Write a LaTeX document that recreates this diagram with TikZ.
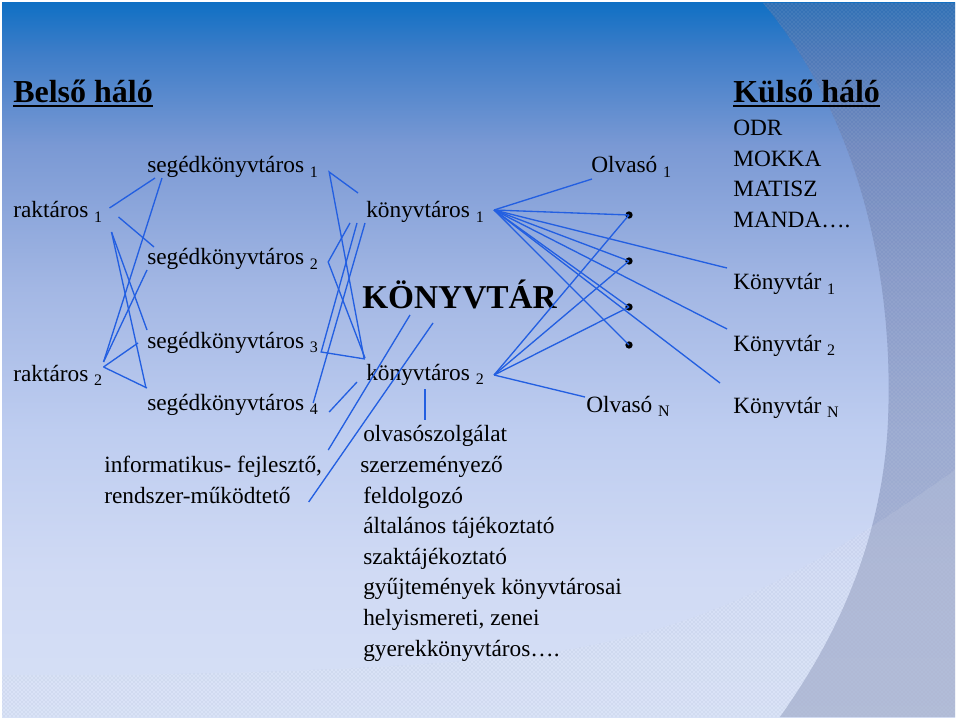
\documentclass[tikz,border=0pt]{standalone}
\usepackage{fontspec}
\setmainfont{Liberation Serif}
\usetikzlibrary{patterns}
\definecolor{vonalkek}{RGB}{35,95,225}
\definecolor{hfelso}{RGB}{16,112,196}
\definecolor{hk1}{RGB}{62,125,200}
\definecolor{hk2}{RGB}{122,153,212}
\definecolor{hk3}{RGB}{163,183,228}
\definecolor{hk4}{RGB}{190,205,240}
\definecolor{hk5}{RGB}{208,218,244}
\definecolor{halso}{RGB}{214,224,246}
\definecolor{minta}{RGB}{100,115,160}
\pgfdeclareverticalshading{hatter}{100bp}{color(0bp)=(halso); color(25bp)=(halso); color(35bp)=(hk5); color(45bp)=(hk4); color(55bp)=(hk3); color(65bp)=(hk2); color(71.5bp)=(hk1); color(75bp)=(hfelso); color(100bp)=(hfelso)}
\newcommand{\ix}[1]{\raisebox{-0.4ex}{\fontsize{12}{12}\selectfont #1}}
\newsavebox\cimdoboz
\newcommand{\alahuz}[1]{\sbox\cimdoboz{#1}\usebox\cimdoboz\llap{\rule[-3pt]{\wd\cimdoboz}{1.3pt}}}
\tikzset{
  szoveg/.style={anchor=base west, inner sep=0pt, font=\fontsize{17.5}{21}\selectfont},
  cim/.style={anchor=base west, inner sep=0pt, font=\fontsize{24}{28}\selectfont\bfseries},
  kapcs/.style={draw=vonalkek, line width=1pt},
  pont/.style={circle, fill=black, inner sep=0pt, minimum size=5.5pt},
}
\begin{document}
\begin{tikzpicture}[x=0.75pt,y=-0.75pt]
\useasboundingbox (0,0) rectangle (960,720);
%% hatter
\fill[white] (0,0) rectangle (960,720);
\shade[shading=hatter] (2,3) rectangle (955,717);
\fill[minta, fill opacity=0.4] (763,3) .. controls (845,100) and (895,250) .. (888,420) .. controls (882,560) and (820,660) .. (780,717) -- (955,717) -- (955,3) -- cycle;
\fill[pattern=crosshatch dots, pattern color=white, fill opacity=0.25] (763,3) .. controls (845,100) and (895,250) .. (888,420) .. controls (882,560) and (820,660) .. (780,717) -- (955,717) -- (955,3) -- cycle;
\fill[white, fill opacity=0.12] (2,675) .. controls (200,676) and (400,670) .. (547,653) .. controls (700,630) and (800,580) .. (955,470) -- (955,717) -- (2,717) -- cycle;
\fill[pattern=crosshatch dots, pattern color=minta, fill opacity=0.3] (2,675) .. controls (200,676) and (400,670) .. (547,653) .. controls (700,630) and (800,580) .. (955,470) -- (955,717) -- (2,717) -- cycle;
%% szovegek
\node[cim] (belso) at (13,103) {\alahuz{Belső háló}};
\node[cim] (kulso) at (733,103) {\alahuz{Külső háló}};
\node[szoveg] (odr) at (733,136) {ODR};
\node[szoveg] (mokka) at (733,167) {MOKKA};
\node[szoveg] (matisz) at (733,197) {MATISZ};
\node[szoveg] (manda) at (733,228) {MANDA\ldots.};
\node[szoveg] (kv1) at (733,290) {Könyvtár \ix{1}};
\node[szoveg] (kv2) at (733,351) {Könyvtár \ix{2}};
\node[szoveg] (kvN) at (733,413) {Könyvtár \ix{N}};
\node[szoveg] (rakt1) at (13,218) {raktáros \ix{1}};
\node[szoveg] (rakt2) at (13,381) {raktáros \ix{2}};
\node[szoveg] (seg1) at (147,173) {segédkönyvtáros \ix{1}};
\node[szoveg] (seg2) at (147,265) {segédkönyvtáros \ix{2}};
\node[szoveg] (seg3) at (147,348) {segédkönyvtáros \ix{3}};
\node[szoveg] (seg4) at (147,410) {segédkönyvtáros \ix{4}};
\node[szoveg] (kt1) at (366,218) {könyvtáros \ix{1}};
\node[szoveg] (kt2) at (366,380) {könyvtáros \ix{2}};
\node[anchor=base west, inner sep=0pt, font=\fontsize{25}{30}\selectfont\bfseries] (konyvtar) at (362,308) {KÖNYVTÁR};
\node[szoveg] (olv1) at (591,173) {Olvasó \ix{1}};
\node[szoveg] (olvN) at (586,412) {Olvasó \ix{N}};
\node[pont] (pont1) at (629,215) {};
\node[pont] (pont2) at (629,261) {};
\node[pont] (pont3) at (629,307) {};
\node[pont] (pont4) at (629,345) {};
\node[szoveg] (info) at (104,472) {informatikus- fejlesztő,};
\node[szoveg] (rendszer) at (104,503) {rendszer-működtető};
\node[szoveg] (olvsz) at (363,441) {olvasószolgálat};
\node[szoveg] (szerz) at (360,472) {szerzeményező};
\node[szoveg] (feld) at (363,503) {feldolgozó};
\node[szoveg] (alt) at (363,533) {általános tájékoztató};
\node[szoveg] (szakt) at (363,564) {szaktájékoztató};
\node[szoveg] (gyujt) at (363,594) {gyűjtemények könyvtárosai};
\node[szoveg] (helyi) at (363,625) {helyismereti, zenei};
\node[szoveg] (gyerek) at (363,656) {gyerekkönyvtáros\ldots.};
%% raktarosok
\draw[kapcs] ([shift={(7,-10)}]rakt1.base east) -- ([shift={(8,5)}]seg1.base west);
\draw[kapcs] ([shift={(16,-1)}]rakt1.base east) -- ([shift={(7,-18)}]seg2.base west);
\draw[kapcs] ([shift={(9,14)}]rakt1.base east) -- ([shift={(0,-18)}]seg3.base west);
\draw[kapcs] ([shift={(9,14)}]rakt1.base east) -- ([shift={(-1,-22)}]seg4.base west);
\draw[kapcs] ([shift={(1,-19)}]rakt2.base east) -- ([shift={(15,5)}]seg1.base west);
\draw[kapcs] ([shift={(1,-19)}]rakt2.base east) -- ([shift={(0,5)}]seg2.base west);
\draw[kapcs] ([shift={(1,-14)}]rakt2.base east) -- ([shift={(-9,-5)}]seg3.base west);
\draw[kapcs] ([shift={(1,-14)}]rakt2.base east) -- ([shift={(0,-22)}]seg4.base west);
%% segedkonyvtarosok
\draw[kapcs] ([shift={(-8,-25)}]kt1.base west) -- ([shift={(11,-1)}]seg1.base east) -- ([shift={(-2,-22)}]kt2.base west);
\draw[kapcs] ([shift={(-16,5)}]kt1.base west) -- ([shift={(10,-3)}]seg2.base east) -- ([shift={(-1,-22)}]kt2.base west);
\draw[kapcs] ([shift={(-9,5)}]kt1.base west) -- ([shift={(3,4)}]seg3.base east) -- ([shift={(-1,-21)}]kt2.base west);
\draw[kapcs] ([shift={(-5,-7)}]seg4.base east) -- ([shift={(-1,5)}]kt1.base west);
\draw[kapcs] ([shift={(11,2)}]seg4.base east) -- ([shift={(-9,2)}]kt2.base west);
%% konyvtarosok
\draw[kapcs] ([shift={(10,-8)}]kt1.base east) -- ([shift={(1,6)}]olv1.base west);
\draw[kapcs] ([shift={(10,-8)}]kt1.base east) -- (pont1.center);
\draw[kapcs] ([shift={(10,-8)}]kt1.base east) -- ([shift={(-6,-22)}]kv1.base west);
\draw[kapcs] ([shift={(10,-8)}]kt1.base east) -- (pont2.center);
\draw[kapcs] ([shift={(10,-8)}]kt1.base east) -- ([shift={(-6,-22)}]kv2.base west);
\draw[kapcs] ([shift={(10,-8)}]kt1.base east) -- (pont3.center);
\draw[kapcs] ([shift={(10,-8)}]kt1.base east) -- (pont4.center);
\draw[kapcs] ([shift={(10,-8)}]kt1.base east) -- ([shift={(-13,-30)}]kvN.base west);
\draw[kapcs] ([shift={(10,-5)}]kt2.base east) -- (pont1.center);
\draw[kapcs] ([shift={(10,-5)}]kt2.base east) -- (pont2.center);
\draw[kapcs] ([shift={(10,-5)}]kt2.base east) -- (pont3.center);
\draw[kapcs] ([shift={(10,-5)}]kt2.base east) -- ([shift={(-1,-15)}]olvN.base west);
\draw[kapcs] ([shift={(59,9)}]kt2.base west) -- ([shift={(62,-21)}]olvsz.base west);
%% konyvtar
\draw[kapcs] ([shift={(48,7)}]konyvtar.base west) -- ([shift={(6,-22)}]info.base east);
\draw[kapcs] ([shift={(71,15)}]konyvtar.base west) -- ([shift={(18,-1)}]rendszer.base east);
\end{tikzpicture}
\end{document}
